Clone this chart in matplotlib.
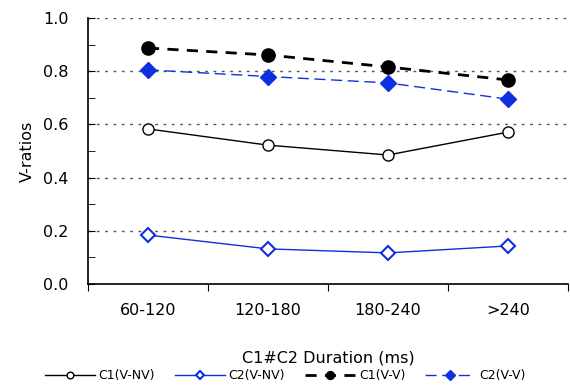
import matplotlib
matplotlib.use("Agg")
import matplotlib.pyplot as plt
from matplotlib.ticker import MultipleLocator

categories = ["60-120", "120-180", "180-240", ">240"]
c1_vnv = [0.583, 0.522, 0.485, 0.571]
c2_vnv = [0.184, 0.132, 0.117, 0.143]
c1_vv = [0.887, 0.861, 0.816, 0.767]
c2_vv = [0.805, 0.780, 0.756, 0.695]

plt.rcParams['font.family'] = ['DejaVu Sans']
fig = plt.figure(figsize=(5.7, 3.85), dpi=100)
ax = fig.add_axes([88/570, 1-284/385, (568-88)/570, (284-18)/385])

x = [i + 0.5 for i in range(len(categories))]
blue = '#1030e0'
ax.plot(x, c1_vnv, color='black', lw=1, marker='o', ms=8, mfc='white', mec='black', mew=1, label='C1(V-NV)')
ax.plot(x, c2_vnv, color=blue, lw=1, marker='D', ms=7, mfc='white', mec=blue, mew=1.5, label='C2(V-NV)')
ax.plot(x, c1_vv, color='black', lw=2, ls=(0, (4, 3)), marker='o', ms=9.5, mfc='black', mec='black', label='C1(V-V)')
ax.plot(x, c2_vv, color=blue, lw=1, ls=(0, (8, 4)), marker='D', ms=8, mfc=blue, mec=blue, label='C2(V-V)')

ax.set_xlim(0, 4)
ax.set_ylim(0, 1.0)
ax.set_xticks([0, 1, 2, 3, 4])
ax.set_xticklabels([])
ax.set_xticks(x, minor=True)
ax.set_xticklabels(categories, minor=True, fontsize=11.5)
ax.tick_params(axis='x', which='minor', length=0, pad=14)
ax.tick_params(axis='x', which='major', direction='out', length=5)
ax.yaxis.set_minor_locator(MultipleLocator(0.1))
ax.set_yticks([0, 0.2, 0.4, 0.6, 0.8, 1.0])
ax.set_yticklabels(["0.0", "0.2", "0.4", "0.6", "0.8", "1.0"], fontsize=11.5)
ax.tick_params(axis='y', which='both', direction='in', length=5, pad=14)
ax.grid(axis='y', which='major', ls=(0, (2, 4)), color='#555555', lw=1)
for s in ['top', 'right']:
    ax.spines[s].set_visible(False)
ax.spines['left'].set_linewidth(1.2)
ax.spines['bottom'].set_linewidth(1.2)
ax.set_ylabel('V-ratios', fontsize=11.5, labelpad=6)
ax.set_xlabel('C1#C2 Duration (ms)', fontsize=11.5, labelpad=23)

leg = fig.legend(loc='lower center', bbox_to_anchor=(0.5, -0.022), ncol=4, frameon=False,
                 fontsize=9, handlelength=4.0, columnspacing=1.6, handletextpad=0.3,
                 markerscale=0.6)
fig.savefig('out.png', dpi=100)
